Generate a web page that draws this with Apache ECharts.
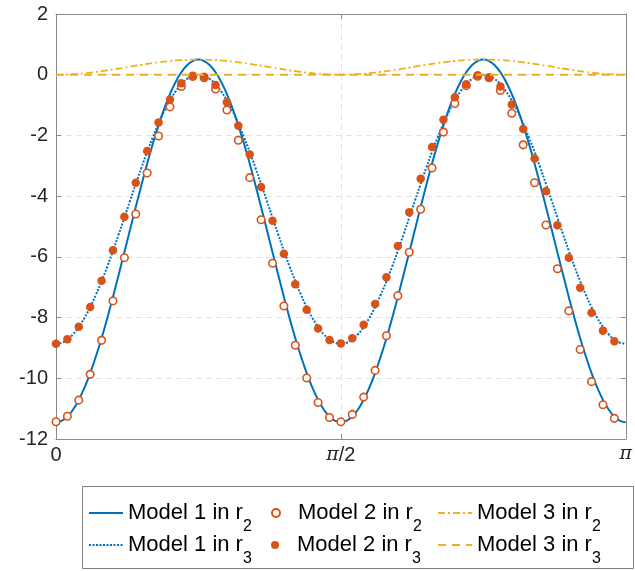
<!DOCTYPE html>
<html>
<head>
<meta charset="utf-8">
<script src="https://cdn.jsdelivr.net/npm/echarts@6/dist/echarts.min.js"></script>
<style>
  html, body { margin: 0; padding: 0; background: #fff; }
  #chart { width: 635px; height: 571px; }
</style>
</head>
<body>
<div id="chart"></div>
<script>
// x axis runs in steps of pi/100: position j  ->  x = j * pi / 100 (j = 0 .. 100)
const xTickPos = [0, 50, 100];
const xTickLabels = ['0', 'π/2', 'π'];
const yTickLabels = ['-12', '-10', '-8', '-6', '-4', '-2', '0', '2'];

const seriesNames = ['Model 1 in r2', 'Model 1 in r3', 'Model 2 in r2', 'Model 2 in r3', 'Model 3 in r2', 'Model 3 in r3'];

// Model 1 in r2 (solid curve), j = 0..100
const model1R2 = [
  -11.45, -11.40, -11.26, -11.03, -10.71, -10.31, -9.83, -9.28, -8.68, -8.02, -7.32, -6.59, -5.85,
  -5.10, -4.36, -3.63, -2.93, -2.27, -1.67, -1.12, -0.64, -0.24, 0.08, 0.31, 0.45, 0.50,
  0.45, 0.31, 0.08, -0.24, -0.64, -1.12, -1.67, -2.27, -2.93, -3.63, -4.36, -5.10, -5.85,
  -6.59, -7.32, -8.02, -8.68, -9.28, -9.83, -10.31, -10.71, -11.03, -11.26, -11.40, -11.45,
  -11.40, -11.26, -11.03, -10.71, -10.31, -9.83, -9.28, -8.68, -8.02, -7.32, -6.59, -5.85,
  -5.10, -4.36, -3.63, -2.93, -2.27, -1.67, -1.12, -0.64, -0.24, 0.08, 0.31, 0.45, 0.50,
  0.45, 0.31, 0.08, -0.24, -0.64, -1.12, -1.67, -2.27, -2.93, -3.63, -4.36, -5.10, -5.85,
  -6.59, -7.32, -8.02, -8.68, -9.28, -9.83, -10.31, -10.71, -11.03, -11.26, -11.40, -11.45];

// Model 1 in r3 (dotted curve), j = 0..100
const model1R3 = [
  -8.86, -8.83, -8.72, -8.55, -8.31, -8.01, -7.66, -7.25, -6.80, -6.32, -5.80, -5.26, -4.71,
  -4.15, -3.60, -3.06, -2.54, -2.06, -1.61, -1.20, -0.85, -0.55, -0.31, -0.14, -0.04, 0.00,
  -0.04, -0.14, -0.31, -0.55, -0.85, -1.20, -1.61, -2.06, -2.54, -3.06, -3.60, -4.15, -4.71,
  -5.26, -5.80, -6.32, -6.80, -7.25, -7.66, -8.01, -8.31, -8.55, -8.72, -8.83, -8.86,
  -8.83, -8.72, -8.55, -8.31, -8.01, -7.66, -7.25, -6.80, -6.32, -5.80, -5.26, -4.71,
  -4.15, -3.60, -3.06, -2.54, -2.06, -1.61, -1.20, -0.85, -0.55, -0.31, -0.14, -0.04, 0.00,
  -0.04, -0.14, -0.31, -0.55, -0.85, -1.20, -1.61, -2.06, -2.54, -3.06, -3.60, -4.15, -4.71,
  -5.26, -5.80, -6.32, -6.80, -7.25, -7.66, -8.01, -8.31, -8.55, -8.72, -8.83, -8.86];

// Model 3 in r2 (dash-dot curve), j = 0..100
const model3R2 = [
  0, 0.002, 0.008, 0.018, 0.031, 0.048, 0.068, 0.091, 0.116, 0.144, 0.173, 0.203, 0.234,
  0.266, 0.297, 0.327, 0.356, 0.384, 0.409, 0.432, 0.452, 0.469, 0.482, 0.492, 0.498, 0.5,
  0.498, 0.492, 0.482, 0.469, 0.452, 0.432, 0.409, 0.384, 0.356, 0.327, 0.297, 0.266, 0.234,
  0.203, 0.173, 0.144, 0.116, 0.091, 0.068, 0.048, 0.031, 0.018, 0.008, 0.002, 0,
  0.002, 0.008, 0.018, 0.031, 0.048, 0.068, 0.091, 0.116, 0.144, 0.173, 0.203, 0.234,
  0.266, 0.297, 0.327, 0.356, 0.384, 0.409, 0.432, 0.452, 0.469, 0.482, 0.492, 0.498, 0.5,
  0.498, 0.492, 0.482, 0.469, 0.452, 0.432, 0.409, 0.384, 0.356, 0.327, 0.297, 0.266, 0.234,
  0.203, 0.173, 0.144, 0.116, 0.091, 0.068, 0.048, 0.031, 0.018, 0.008, 0.002, 0];

// Model 3 in r3 (dashed line), sampled every pi/50 (j = 0, 2, .., 100)
const model3R3 = [0, 0, 0, 0, 0, 0, 0, 0, 0, 0, 0, 0, 0, 0, 0, 0, 0, 0, 0, 0, 0, 0, 0, 0, 0, 0,
  0, 0, 0, 0, 0, 0, 0, 0, 0, 0, 0, 0, 0, 0, 0, 0, 0, 0, 0, 0, 0, 0, 0, 0, 0];

// Model 2 in r2 (open circles), sampled every pi/50 (j = 0, 2, .., 98)
const model2R2 = [-11.43, -11.25, -10.72, -9.87, -8.75, -7.45, -6.03, -4.59, -3.24, -2.02,
  -1.06, -0.39, -0.06, -0.10, -0.47, -1.16, -2.16, -3.39, -4.78, -6.21,
  -7.62, -8.91, -9.99, -10.80, -11.29, -11.43, -11.19, -10.62, -9.74, -8.60,
  -7.28, -5.85, -4.43, -3.07, -1.89, -0.95, -0.36, -0.05, -0.10, -0.52,
  -1.27, -2.31, -3.56, -4.95, -6.39, -7.78, -9.05, -10.11, -10.87, -11.32];

// Model 2 in r3 (filled dots), sampled every pi/50 (j = 0, 2, .., 98)
const model2R3 = [-8.86, -8.71, -8.30, -7.65, -6.79, -5.78, -4.68, -3.56, -2.51, -1.57,
  -0.82, -0.28, -0.03, -0.07, -0.34, -0.91, -1.68, -2.63, -3.70, -4.81,
  -5.90, -6.90, -7.74, -8.36, -8.74, -8.85, -8.68, -8.24, -7.55, -6.67,
  -5.64, -4.53, -3.43, -2.38, -1.48, -0.74, -0.31, -0.02, -0.09, -0.39,
  -0.98, -1.79, -2.76, -3.84, -4.96, -6.03, -7.02, -7.84, -8.43, -8.78];

const BLUE = '#0072BD', ORANGE = '#D95319', YELLOW = '#EDB120';
const AXIS = '#8a8a8a', TXT = '#262626', GRID = '#e3e3e3';
const FONT = '"Liberation Sans", Arial, Helvetica, sans-serif';

const fine = arr => arr.map((v, i) => [i, v]);
const coarse = arr => arr.map((v, i) => [2 * i, v]);

function xLabel(v) {
  const i = xTickPos.indexOf(v);
  if (i < 0) return '';
  return xTickLabels[i].replace('π', '{pi|π}');
}
function yLabel(v) {
  const i = Math.round((v + 12) / 2);
  return yTickLabels[i] !== undefined ? yTickLabels[i] : '';
}
function legendFmt(name) {
  return name.replace(/r(\d)$/, 'r{s|$1}');
}

const axisCommon = {
  axisLine: { show: true, onZero: false, lineStyle: { color: AXIS, width: 1 } },
  axisTick: { show: true, inside: true, length: 5, lineStyle: { color: AXIS } }
};

const legendTextStyle = {
  fontFamily: FONT, fontSize: 22, color: '#000',
  rich: {
    s: { fontFamily: FONT, fontSize: 16, color: '#000', padding: [27, 0, 0, 0] }
  }
};
const hideSym = { opacity: 0, borderWidth: 0 };

// one legend entry per cell of the 3 x 2 legend grid
function legendCell(name, left, top, isLine) {
  return {
    data: [isLine ? { name: name, itemStyle: hideSym } : { name: name }],
    left: left, top: top, padding: 0, itemGap: 0, itemWidth: 34, itemHeight: 8,
    formatter: legendFmt, textStyle: legendTextStyle, selectedMode: false
  };
}
const colLeft = [88, 271, 437];
const rowTop = [502, 534];

const chart = echarts.init(document.getElementById('chart'), null, { renderer: 'canvas' });
chart.setOption({
  animation: false,
  backgroundColor: '#fff',
  grid: { left: 56, top: 14, width: 576, height: 425, containLabel: false },
  xAxis: [
    Object.assign({
      type: 'value', min: 0, max: 100, interval: 50, position: 'bottom',
      axisLabel: {
        formatter: xLabel, fontFamily: FONT, fontSize: 20, color: TXT, margin: 6,
        rich: { pi: { fontFamily: '"DejaVu Serif", "Liberation Serif", serif', fontStyle: 'italic', fontSize: 19, color: TXT } }
      },
      splitLine: { show: true, lineStyle: { color: GRID, type: [6, 4], width: 1 } }
    }, axisCommon),
    Object.assign({
      type: 'value', min: 0, max: 100, interval: 50, position: 'top',
      axisLabel: { show: false }, splitLine: { show: false }
    }, axisCommon)
  ],
  yAxis: [
    Object.assign({
      type: 'value', min: -12, max: 2, interval: 2, position: 'left',
      axisLabel: { formatter: yLabel, fontFamily: FONT, fontSize: 20, color: TXT, margin: 8 },
      splitLine: { show: true, lineStyle: { color: GRID, type: [6, 4], width: 1 } }
    }, axisCommon),
    Object.assign({
      type: 'value', min: -12, max: 2, interval: 2, position: 'right',
      axisLabel: { show: false }, splitLine: { show: false }
    }, axisCommon)
  ],
  legend: [
    legendCell(seriesNames[0], colLeft[0], rowTop[0], true),
    legendCell(seriesNames[2], colLeft[1], rowTop[0], false),
    legendCell(seriesNames[4], colLeft[2], rowTop[0], true),
    legendCell(seriesNames[1], colLeft[0], rowTop[1], true),
    legendCell(seriesNames[3], colLeft[1], rowTop[1], false),
    legendCell(seriesNames[5], colLeft[2], rowTop[1], true)
  ],
  graphic: [{
    type: 'rect', silent: true,
    shape: { x: 82.5, y: 486.5, width: 551, height: 82 },
    style: { fill: 'none', stroke: '#808080', lineWidth: 1 }
  }],
  series: [
    {
      name: seriesNames[0], type: 'line', data: fine(model1R2), smooth: true,
      showSymbol: false, symbol: 'none', z: 2,
      lineStyle: { color: BLUE, width: 2 }, itemStyle: { color: BLUE }
    },
    {
      name: seriesNames[1], type: 'line', data: fine(model1R3), smooth: true,
      showSymbol: false, symbol: 'none', z: 2,
      lineStyle: { color: BLUE, width: 2, type: [2, 1.5] }, itemStyle: { color: BLUE }
    },
    {
      name: seriesNames[2], type: 'scatter', data: coarse(model2R2), symbol: 'circle', symbolSize: 7.5, z: 3,
      itemStyle: { color: '#fff', borderColor: ORANGE, borderWidth: 1.6, opacity: 1 }
    },
    {
      name: seriesNames[3], type: 'scatter', data: coarse(model2R3), symbol: 'circle', symbolSize: 8.5, z: 4,
      itemStyle: { color: ORANGE, borderColor: ORANGE, borderWidth: 0, opacity: 1 }
    },
    {
      name: seriesNames[4], type: 'line', data: fine(model3R2), smooth: true,
      showSymbol: false, symbol: 'none', z: 5,
      lineStyle: { color: YELLOW, width: 1.8, type: [7, 3, 2, 3] }, itemStyle: { color: YELLOW }
    },
    {
      name: seriesNames[5], type: 'line', data: coarse(model3R3), smooth: false,
      showSymbol: false, symbol: 'none', z: 5,
      lineStyle: { color: YELLOW, width: 2, type: [8, 6] }, itemStyle: { color: YELLOW }
    }
  ]
});
</script>
</body>
</html>
